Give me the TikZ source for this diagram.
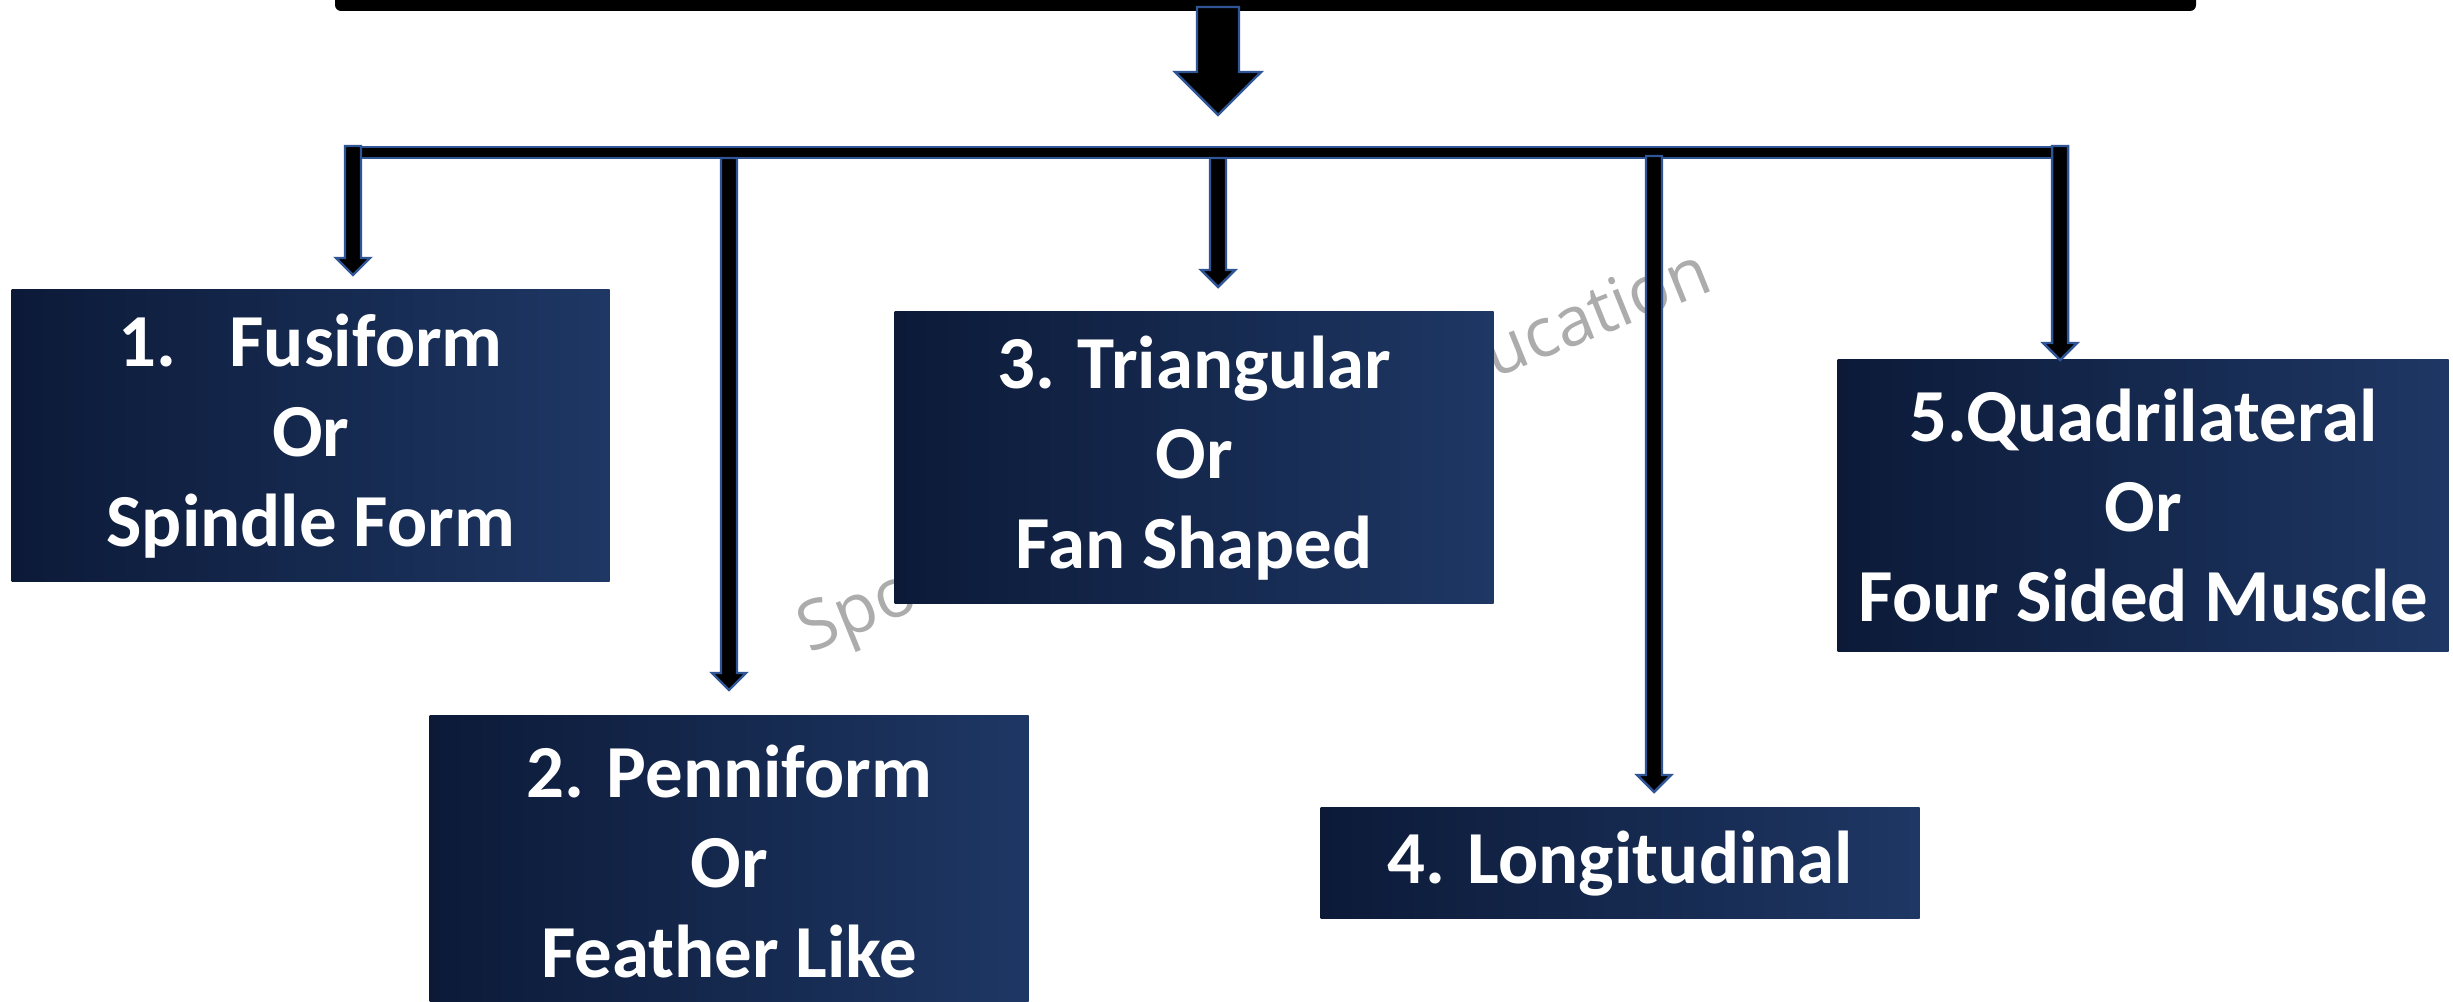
\documentclass[tikz,border=0pt]{standalone}
\usepackage{fontspec}
\setmainfont{Carlito}
\newfontfamily\wmfont{Open Sans}
\usetikzlibrary{calc}
\definecolor{navyL}{RGB}{12,26,56}
\definecolor{navyR}{RGB}{30,55,100}
\definecolor{arrowblue}{RGB}{47,85,151}
\definecolor{wmgray}{RGB}{172,172,172}
\definecolor{wmshadow}{RGB}{215,215,215}
\newcommand\connarrow[2]{%
  \draw[arr] ($(#1)+(-0.08,0)$) -- ($(#1)+(0.08,0)$) -- ($(#2)+(0.08,0.17)$)
    -- ($(#2)+(0.17,0.17)$) -- (#2) -- ($(#2)+(-0.17,0.17)$)
    -- ($(#2)+(-0.08,0.17)$) -- cycle;}
\begin{document}
\begin{tikzpicture}[x=1cm,y=1cm,
  box/.style={rectangle, inner sep=0pt, anchor=north west,
    left color=navyL, right color=navyR, text=white,
    font=\fontsize{21.3}{25.6}\selectfont\bfseries, align=center},
  arr/.style={fill=black, draw=arrowblue, line width=0.7pt, line join=miter},
  wm/.style={text=wmgray, font=\wmfont\fontsize{19.5}{19.5}\selectfont, rotate=22, inner sep=0pt}
]
\useasboundingbox (0,0) rectangle (24.53,-10.02);
\fill[white] (0,0) rectangle (24.53,-10.02);

% watermark (only its visible parts; the rest lies behind box 3)
\node[wm, anchor=base west] (wm1) at (8.09,-6.54) {Spo};
\node[wm, anchor=base east] (wm2) at (17.16,-2.89) {ucation};

% boxes
\node[box, minimum width=5.98cm, minimum height=2.92cm] (b1) at (0.11,-2.89)
  {1.\hspace{0.53cm}Fusiform\\Or\\Spindle Form};
\node[box, minimum width=5.99cm, minimum height=2.92cm] (b2) at (4.29,-7.15)
  {2. Penniform\\Or\\Feather Like};
\node[box, minimum width=5.99cm, minimum height=2.92cm] (b3) at (8.94,-3.11)
  {3. Triangular\\Or\\Fan Shaped};
\node[box, minimum width=5.99cm, minimum height=1.11cm] (b4) at (13.20,-8.07)
  {4. Longitudinal};
\node[box, minimum width=6.11cm, minimum height=2.92cm] (b5) at (18.37,-3.59)
  {5.Quadrilateral\\Or\\Four Sided Muscle};

% top bar
\fill[black, rounded corners=0.06cm] (3.35,0.4) rectangle (21.96,-0.11);

% big arrow
\coordinate (bigtop) at (12.18,-0.07);
\coordinate (bigtip) at (12.18,-1.15);
\draw[arr] ($(bigtop)+(-0.21,0)$) -- ($(bigtop)+(0.21,0)$) -- (12.39,-0.72) -- (12.61,-0.72)
  -- (bigtip) -- (11.75,-0.72) -- (11.97,-0.72) -- cycle;

% horizontal distribution bar
\draw[arr] (3.50,-1.47) rectangle (20.56,-1.58);

% connector start points and tips
\coordinate (s1) at (3.53,-1.46);  \coordinate (t1) at (3.53,-2.75);
\coordinate (s2) at (7.29,-1.58);  \coordinate (t2) at (7.29,-6.90);
\coordinate (s3) at (12.18,-1.58); \coordinate (t3) at (12.18,-2.87);
\coordinate (s4) at (16.54,-1.56); \coordinate (t4) at (16.54,-7.92);
\coordinate (s5) at (20.60,-1.46); \coordinate (t5) at (20.60,-3.60);

\connarrow{s1}{t1}
\connarrow{s2}{t2}
\connarrow{s3}{t3}
\connarrow{s4}{t4}
\connarrow{s5}{t5}
\end{tikzpicture}
\end{document}
